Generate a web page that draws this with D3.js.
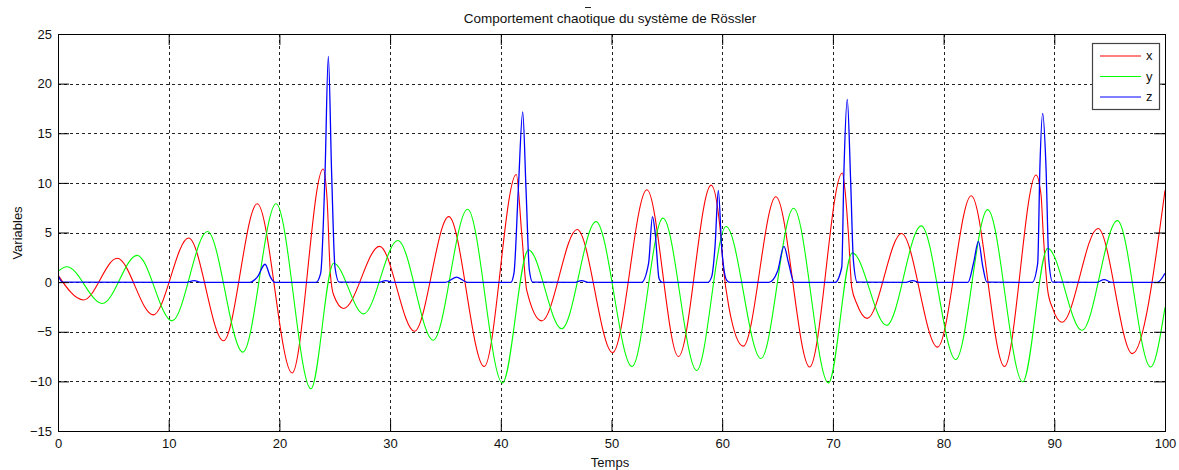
<!DOCTYPE html>
<html>
<head>
<meta charset="utf-8">
<script src="https://cdn.jsdelivr.net/npm/d3@7"></script>
<style>
  html, body { margin: 0; padding: 0; background: #fff; }
  svg { display: block; font-family: "Liberation Sans", Arial, sans-serif; }
</style>
</head>
<body>
<svg id="chart" width="1179" height="470"></svg>
<script>
// ---- Data ----
const xTimes  = [0, 2.3, 5.35, 8.6, 11.8, 14.95, 18.0, 21.15, 23.95, 24.3, 24.6, 24.9, 25.8, 29.05, 32.2, 35.3, 38.5, 41.4, 41.89, 42.34, 43.7, 46.9, 50.1, 53.2, 56.05, 59.0, 59.8, 60.1, 60.6, 61.9, 64.85, 67.9, 70.85, 71.1, 71.4, 71.7, 72.15, 73.1, 76.2, 79.45, 82.5, 85.5, 88.35, 88.8, 89.0, 89.4, 89.85, 90.7, 93.95, 97.05, 100];
const xValues = [0.7, -1.8, 2.4, -3.3, 4.45, -5.9, 7.9, -9.15, 11.4, 8.5, 0.9, -1.3, -2.65, 3.6, -4.95, 6.6, -8.5, 10.85, 4.9, -0.8, -3.9, 5.3, -7.1, 9.3, -7.5, 9.77, 5.5, 1.5, -2.5, -6.45, 8.6, -8.55, 11.0, 9.2, 4.9, -0.5, -2.15, -3.65, 4.9, -6.55, 8.7, -8.5, 10.8, 8.8, 4.9, -0.8, -2.65, -4.05, 5.4, -7.2, 9.25];

const yTimes  = [0, 0.8, 4.0, 7.15, 10.3, 13.5, 16.7, 19.7, 22.85, 24.9, 27.6, 30.7, 33.9, 37.0, 40.15, 42.5, 45.5, 48.6, 51.85, 54.65, 57.7, 60.35, 63.5, 66.45, 69.6, 71.75, 74.85, 77.98, 81.1, 83.98, 87.15, 89.4, 92.5, 95.7, 98.7, 100];
const yValues = [1.1, 1.55, -2.15, 2.7, -3.9, 5.1, -7.05, 7.9, -10.75, 1.9, -3.2, 4.2, -5.85, 7.35, -10.15, 3.25, -4.7, 6.1, -8.5, 6.45, -8.9, 5.6, -7.7, 7.45, -10.15, 2.95, -4.35, 5.67, -7.8, 7.3, -10.05, 3.4, -4.85, 6.2, -8.55, -2.55];

const zTimes  = [0, 0.4, 11.5, 12.3, 13.0, 17.3, 18.0, 18.7, 19.2, 19.6, 23.3, 23.73, 24.12, 24.42, 24.72, 25.02, 25.4, 28.9, 29.6, 30.3, 35.0, 36.0, 37.0, 40.9, 41.19, 41.58, 41.98, 42.28, 42.58, 42.88, 46.6, 47.3, 48.0, 52.7, 53.35, 53.7, 53.95, 54.3, 54.6, 58.7, 59.05, 59.35, 59.65, 59.95, 60.4, 60.7, 64.2, 65.0, 65.58, 66.0, 66.5, 70.2, 70.8, 71.0, 71.3, 71.6, 71.85, 72.2, 76.5, 77.2, 77.9, 82.2, 82.7, 83.15, 83.55, 83.9, 88.0, 88.5, 88.7, 88.95, 89.25, 89.5, 89.85, 93.8, 94.5, 95.2, 99.3, 100];
const zValues = [0.7, 0.0, -0.03, 0.15, -0.03, -0.03, 0.5, 1.8, 0.5, -0.03, -0.03, 0.9, 10.9, 22.75, 10.9, 1.5, 0.0, -0.03, 0.15, -0.03, -0.03, 0.5, -0.03, -0.03, 0.9, 9.3, 17.15, 9.3, 1.2, 0.0, -0.03, 0.15, -0.03, -0.03, 1.9, 6.6, 4.9, 0.35, -0.03, -0.03, 0.55, 3.55, 9.25, 3.55, 0.2, -0.03, -0.03, 1.1, 3.6, 1.9, -0.03, -0.03, 1.5, 11.3, 18.4, 10.3, 2.2, 0.0, -0.03, 0.15, -0.03, -0.03, 1.9, 4.1, 1.5, 0.0, -0.03, 1.9, 11.6, 17.0, 11.6, 2.2, 0.0, -0.03, 0.25, -0.03, -0.03, 0.9];

const seriesNames  = ["x", "y", "z"];
const seriesColors = ["#ff0000", "#00ff00", "#0000ff"];
const xTickValues = [0, 10, 20, 30, 40, 50, 60, 70, 80, 90, 100];
const yTickValues = [-15, -10, -5, 0, 5, 10, 15, 20, 25];
const titleText = "Comportement chaotique du système de Rössler";
const xLabelText = "Temps";
const yLabelText = "Variables";

// ---- Layout ----
const svg = d3.select("#chart");
const pL = 58, pR = 1165, pT = 34, pB = 431;

const xs = d3.scaleLinear().domain([0, 100]).range([pL, pR]);
const ys = d3.scaleLinear().domain([-15, 25]).range([pB, pT]);

// grid
const grid = svg.append("g").attr("stroke", "#222").attr("stroke-width", 1)
  .attr("stroke-dasharray", "3,3").attr("shape-rendering", "crispEdges");
grid.selectAll("line.v").data(xTickValues.slice(1, -1)).join("line")
  .attr("x1", d => Math.round(xs(d)) + 0.5).attr("x2", d => Math.round(xs(d)) + 0.5)
  .attr("y1", pT).attr("y2", pB);
grid.selectAll("line.h").data(yTickValues.slice(1, -1)).join("line")
  .attr("y1", d => Math.round(ys(d)) + 0.5).attr("y2", d => Math.round(ys(d)) + 0.5)
  .attr("x1", pL).attr("x2", pR);

// series
const series = [
  { times: xTimes, values: xValues },
  { times: yTimes, values: yValues },
  { times: zTimes, values: zValues }
];
const line = d3.line().x(d => xs(d[0])).y(d => ys(d[1])).curve(d3.curveMonotoneX);
const plot = svg.append("g");
plot.append("clipPath").attr("id", "clip").append("rect")
  .attr("x", pL).attr("y", pT).attr("width", pR - pL).attr("height", pB - pT);
series.forEach((s, i) => {
  plot.append("path")
    .attr("clip-path", "url(#clip)")
    .attr("d", line(s.times.map((t, k) => [t, s.values[k]])))
    .attr("fill", "none").attr("stroke", seriesColors[i]).attr("stroke-width", i === 2 ? 1.3 : 1.1);
});

// axes (inward ticks)
function styleAxis(g) {
  g.select(".domain").remove();
  g.selectAll(".tick line").attr("stroke", "#000");
  g.selectAll(".tick text").attr("fill", "#111").style("font-size", "13px")
    .style("font-family", "'Liberation Sans', Arial, sans-serif");
}
svg.append("g").attr("transform", `translate(0,${pB})`)
  .call(d3.axisBottom(xs).tickValues(xTickValues).tickSize(-11).tickPadding(8).tickFormat(d3.format("d")))
  .call(styleAxis);
svg.append("g").attr("transform", `translate(0,${pT})`)
  .call(d3.axisTop(xs).tickValues(xTickValues).tickSize(-11).tickFormat(""))
  .call(styleAxis);
svg.append("g").attr("transform", `translate(${pL},0)`)
  .call(d3.axisLeft(ys).tickValues(yTickValues).tickSize(-11).tickPadding(6).tickFormat(d3.format("d")))
  .call(styleAxis);
svg.append("g").attr("transform", `translate(${pR},0)`)
  .call(d3.axisRight(ys).tickValues(yTickValues).tickSize(-11).tickFormat(""))
  .call(styleAxis);

// frame
svg.append("rect").attr("x", pL + 0.5).attr("y", pT + 0.5)
  .attr("width", pR - pL).attr("height", pB - pT)
  .attr("fill", "none").attr("stroke", "#000").attr("stroke-width", 1)
  .attr("shape-rendering", "crispEdges");

// title and labels
svg.append("text").attr("x", 610).attr("y", 23).attr("text-anchor", "middle")
  .style("font-size", "13.5px").attr("fill", "#111").text(titleText);
svg.append("line").attr("x1", 585).attr("x2", 591).attr("y1", 7.5).attr("y2", 7.5)
  .attr("stroke", "#222").attr("stroke-width", 1);
svg.append("text").attr("x", 610).attr("y", 467).attr("text-anchor", "middle")
  .style("font-size", "13px").attr("fill", "#111").text(xLabelText);
svg.append("text").attr("transform", "translate(22,233) rotate(-90)").attr("text-anchor", "middle")
  .style("font-size", "13px").attr("fill", "#111").text(yLabelText);

// legend
const lg = svg.append("g");
lg.append("rect").attr("x", 1092.5).attr("y", 43.5).attr("width", 67).attr("height", 66)
  .attr("fill", "#fff").attr("stroke", "#444").attr("stroke-width", 1.2);
seriesNames.forEach((n, i) => {
  const yy = 56 + i * 20.5;
  lg.append("line").attr("x1", 1100).attr("x2", 1141).attr("y1", yy).attr("y2", yy)
    .attr("stroke", seriesColors[i]).attr("stroke-width", 1.1);
  lg.append("text").attr("x", 1146).attr("y", yy + 4).style("font-size", "13px")
    .attr("fill", "#111").text(n);
});
</script>
</body>
</html>
